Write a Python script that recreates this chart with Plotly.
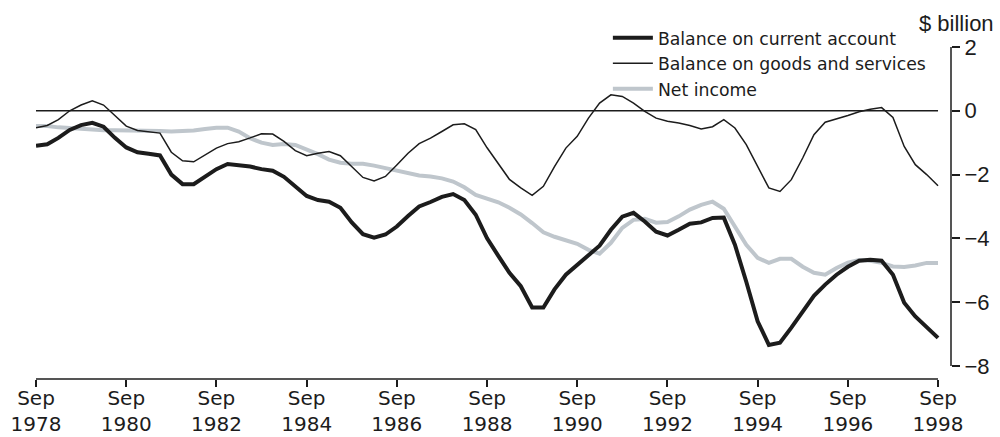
import pandas as pd
import plotly.graph_objects as go

# Quarterly dates, Sep 1978 .. Sep 1998
dates = pd.date_range(start="1978-09-01", end="1998-09-01", freq="3MS")

current_account = [
    -1.10, -1.05, -0.85, -0.60, -0.45, -0.38, -0.50, -0.85, -1.15, -1.30,
    -1.35, -1.40, -2.00, -2.30, -2.30, -2.07, -1.83, -1.67, -1.70, -1.75,
    -1.83, -1.88, -2.07, -2.38, -2.67, -2.80, -2.85, -3.04, -3.50, -3.87,
    -3.98, -3.88, -3.63, -3.30, -3.00, -2.86, -2.70, -2.61, -2.80, -3.26,
    -4.00, -4.55, -5.08, -5.50, -6.17, -6.17, -5.60, -5.14, -4.83, -4.51,
    -4.23, -3.73, -3.32, -3.20, -3.47, -3.79, -3.91, -3.73, -3.54, -3.50,
    -3.36, -3.35, -4.20, -5.36, -6.60, -7.34, -7.27, -6.80, -6.30, -5.80,
    -5.45, -5.14, -4.89, -4.70, -4.67, -4.70, -5.14, -6.02, -6.45, -6.77,
    -7.12,
]

goods_services = [
    -0.53, -0.46, -0.28, 0.00, 0.18, 0.31, 0.18, -0.15, -0.48, -0.62,
    -0.65, -0.70, -1.30, -1.57, -1.60, -1.38, -1.17, -1.03, -0.97, -0.85,
    -0.72, -0.73, -0.96, -1.25, -1.41, -1.33, -1.28, -1.41, -1.74, -2.09,
    -2.20, -2.06, -1.70, -1.33, -1.03, -0.86, -0.65, -0.44, -0.41, -0.59,
    -1.16, -1.66, -2.15, -2.42, -2.65, -2.37, -1.75, -1.17, -0.80, -0.23,
    0.24, 0.50, 0.45, 0.24, -0.02, -0.23, -0.33, -0.38, -0.46, -0.57,
    -0.50, -0.28, -0.54, -1.06, -1.74, -2.42, -2.53, -2.16, -1.48, -0.75,
    -0.36, -0.26, -0.15, -0.03, 0.05, 0.10, -0.21, -1.12, -1.69, -2.00,
    -2.35,
]

net_income = [
    -0.48, -0.48, -0.52, -0.55, -0.58, -0.61, -0.61, -0.61, -0.61, -0.61,
    -0.62, -0.63, -0.65, -0.65, -0.62, -0.57, -0.53, -0.53, -0.65, -0.86,
    -1.00, -1.07, -1.04, -1.07, -1.20, -1.36, -1.53, -1.63, -1.66, -1.66,
    -1.72, -1.80, -1.90, -1.98, -2.03, -2.06, -2.12, -2.22, -2.40, -2.64,
    -2.76, -2.87, -3.04, -3.25, -3.52, -3.81, -3.95, -4.06, -4.17, -4.36,
    -4.48, -4.14, -3.67, -3.42, -3.39, -3.51, -3.49, -3.31, -3.10, -2.95,
    -2.85, -3.07, -3.63, -4.20, -4.61, -4.77, -4.64, -4.64, -4.89, -5.08,
    -5.14, -4.93, -4.76, -4.68, -4.70, -4.77, -4.88, -4.90, -4.85, -4.77,
    -4.77,
]

tick_dates = pd.date_range(start="1978-09-01", end="1998-09-01", freq="24MS")
tick_text = [f"Sep<br>{d.year}" for d in tick_dates]
y_ticks = [-8, -6, -4, -2, 0, 2]

x_start = dates[0]
x_end = dates[-1]
x_range_end = x_end + pd.Timedelta(days=105)

INK = "#1c1c1c"
GREY = "#bfc6cc"

fig = go.Figure()
fig.add_trace(go.Scatter(x=dates, y=net_income, mode="lines", name="Net income",
                         line=dict(color=GREY, width=4)))
fig.add_trace(go.Scatter(x=dates, y=goods_services, mode="lines",
                         name="Balance on goods and services",
                         line=dict(color=INK, width=1.5)))
fig.add_trace(go.Scatter(x=dates, y=current_account, mode="lines",
                         name="Balance on current account",
                         line=dict(color=INK, width=4)))

# zero line
fig.add_shape(type="line", xref="x", yref="y", x0=x_start, x1=x_end, y0=0, y1=0,
              line=dict(color=INK, width=1.5), layer="below")
# x axis baseline
fig.add_shape(type="line", xref="x", yref="paper", x0=x_start, x1=x_end, y0=0, y1=0,
              line=dict(color=INK, width=1.5))
# y axis line (right)
fig.add_shape(type="line", xref="paper", yref="y", x0=1, x1=1, y0=y_ticks[0], y1=y_ticks[-1],
              line=dict(color=INK, width=1.5))

fig.add_annotation(text="$ billion", xref="paper", yref="paper", x=1.006, y=1.072,
                   xanchor="center", yanchor="middle", showarrow=False,
                   font=dict(family="Liberation Sans, Arial, sans-serif", size=22, color=INK))

fig.update_layout(
    width=1000, height=437,
    margin=dict(l=36, r=49, t=47, b=58, autoexpand=False),
    paper_bgcolor="white", plot_bgcolor="white",
    showlegend=True,
    legend=dict(x=0.625, y=1.081, xanchor="left", yanchor="top",
                traceorder="reversed", itemwidth=40,
                bgcolor="rgba(0,0,0,0)",
                font=dict(family="DejaVu Sans, sans-serif", size=17.3, color=INK)),
    xaxis=dict(type="date", range=[x_start, x_range_end], showgrid=False, zeroline=False,
               showline=False, tickvals=list(tick_dates), ticktext=tick_text,
               ticks="outside", ticklen=7, tickwidth=1.5, tickcolor=INK,
               automargin=False, ticklabelstandoff=-6,
               tickfont=dict(family="DejaVu Sans, sans-serif", size=20, color=INK)),
    yaxis=dict(side="right", range=[-8.41, 2], showgrid=False, zeroline=False,
               showline=False, tickvals=y_ticks, ticks="outside", ticklen=8,
               tickwidth=1.5, tickcolor=INK, automargin=False,
               tickfont=dict(family="Liberation Sans, Arial, sans-serif", size=22, color=INK)),
)

fig.write_html("out.html", config={"displayModeBar": False},
               post_script="document.body.style.margin='0';document.body.style.padding='0';")
